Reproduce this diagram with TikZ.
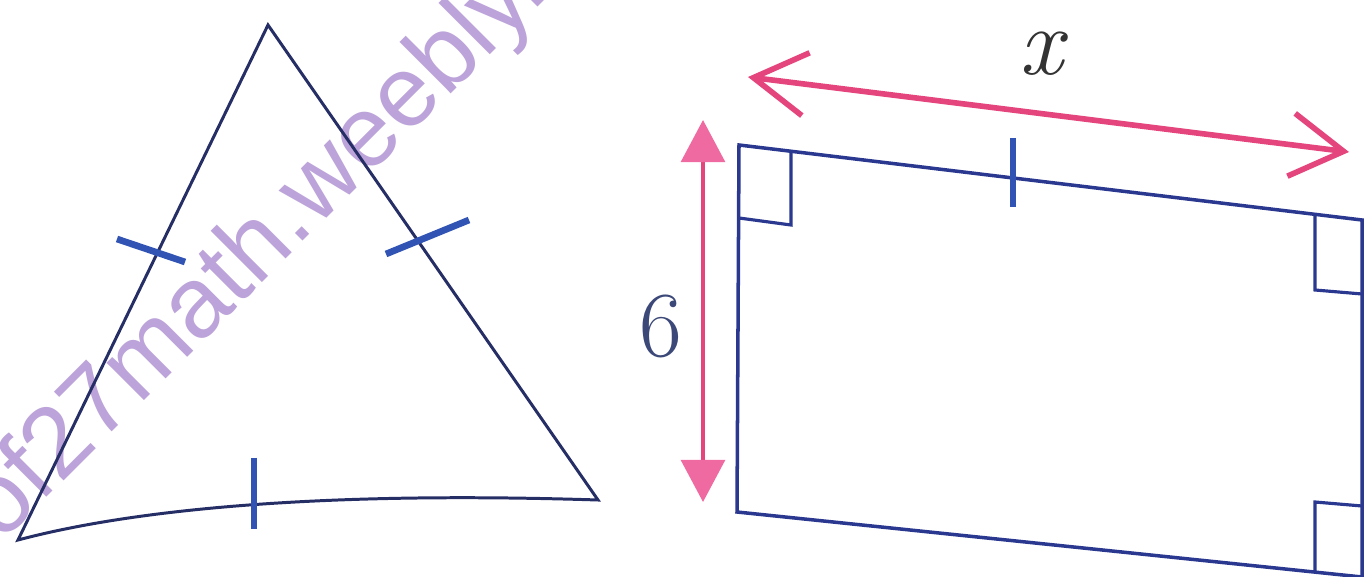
\documentclass[tikz,border=0pt]{standalone}
\usepackage{fontspec}
\newfontfamily\wmfont{Liberation Sans}
\usetikzlibrary{arrows.meta}
\definecolor{edge}{HTML}{262E66}
\definecolor{frame}{HTML}{2B3890}
\definecolor{tickc}{HTML}{3154B4}
\definecolor{rose}{HTML}{E5457D}
\definecolor{roselt}{HTML}{F06AA2}
\definecolor{lilac}{HTML}{BCA3D9}
\definecolor{slate}{HTML}{3B4878}

\begin{document}
\begin{tikzpicture}[x=0.02cm,y=-0.02cm,
 tri/.style={draw=edge,line width=1.7pt},
 quad/.style={draw=frame,line width=2pt},
 tick/.style={draw=tickc,line width=3.8pt},
 rmark/.style={draw=frame,line width=1.8pt},
 dim/.style={draw=rose,line width=3.2pt,
  {Straight Barb[length=30pt,width=36pt]}-{Straight Barb[length=30pt,width=36pt]}},
 hgt/.style={draw=rose,line width=2pt,
  {Triangle[length=24pt,width=25pt,color=roselt]}-{Triangle[length=24pt,width=25pt,color=roselt]}}]
\useasboundingbox (0,0) rectangle (1366,577);
\begin{scope}
\clip (0,0) rectangle (1366,577);
\node[text=lilac,font=\wmfont\fontsize{57}{57}\selectfont,rotate=45] (wm) at (258,250) {of27math.weebly.};
\end{scope}
\coordinate (A) at (268,25);
\coordinate (B) at (18,540);
\coordinate (C) at (598,500);
\draw[tri] (B) -- (A) -- (C) .. controls (350,492) and (150,505) .. cycle;
\coordinate (p) at (739,145);
\coordinate (q) at (1362,220);
\coordinate (r) at (1362,577);
\coordinate (s) at (737,512);
\draw[quad] (p) -- (q) -- (r) -- (s) -- cycle;
\draw[rmark] (791,151) -- (791,225) -- (739,218);
\draw[rmark] (1315,214) -- (1315,290) -- (1362,294);
\draw[rmark] (1315,572) -- (1315,502) -- (1362,506);
\draw[tick] (117,239) -- (185,262);
\draw[tick] (386,254) -- (469,220);
\draw[tick] (254,458) -- (254,529);
\draw[tick] (1013,138) -- (1013,207);
\coordinate (xl) at (748,77);
\coordinate (xr) at (1349,152);
\draw[dim] (xl) -- (xr);
\coordinate (ht) at (703,120);
\coordinate (hb) at (703,502);
\draw[hgt] (ht) -- (hb);
\node[text=slate,font=\fontsize{53}{53}\selectfont] (six) at (661,326) {6};
\node[text=black!80,font=\fontsize{55}{55}\selectfont\itshape] (len) at (1041,54) {x};
\end{tikzpicture}
\end{document}
